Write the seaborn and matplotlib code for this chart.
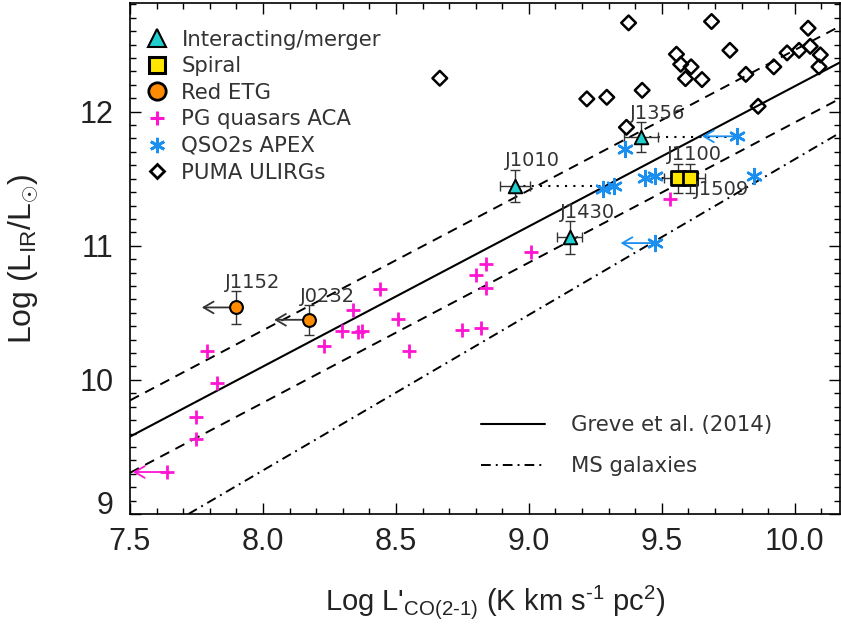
import numpy as np
import pandas as pd
import matplotlib
matplotlib.use("Agg")
import matplotlib.pyplot as plt
import seaborn as sns
from matplotlib.lines import Line2D
from matplotlib.ticker import MultipleLocator, FormatStrFormatter

# ---------------- data ----------------
merger_names = ["J1356", "J1010", "J1430"]
merger_x = [9.422, 8.947, 9.154]
merger_y = [11.811, 11.443, 11.062]
merger_xerr = [0.064, 0.056, 0.047]
merger_yerr = [0.11, 0.12, 0.12]

spiral_names = ["J1100", "J1509"]
spiral_x = [9.559, 9.606]
spiral_y = [11.502, 11.502]
spiral_xerr = [0.05, 0.056]
spiral_yerr = [0.11, 0.11]

etg_names = ["J1152", "J0232"]
etg_x = [7.900, 8.172]          # upper limits in x
etg_y = [10.540, 10.448]
etg_yerr = [0.12, 0.11]

pg_x = [7.788, 7.827, 7.750, 7.747, 8.229, 8.298, 8.340, 8.356, 8.371, 8.440,
        8.509, 8.550, 8.750, 8.819, 8.800, 8.837, 8.837, 9.008, 9.531]
pg_y = [10.216, 9.975, 9.722, 9.562, 10.254, 10.368, 10.522, 10.356, 10.368, 10.679,
        10.455, 10.216, 10.373, 10.386, 10.781, 10.866, 10.684, 10.955, 11.349]
pg_ul_x = [7.641]
pg_ul_y = [9.313]

qso2_x = [9.360, 9.277, 9.319, 9.437, 9.475, 9.845]
qso2_y = [11.722, 11.423, 11.448, 11.502, 11.522, 11.522]
qso2_ul_x = [9.781, 9.475]
qso2_ul_y = [11.816, 11.020]

puma_x = [8.665, 9.375, 9.687, 10.050, 9.555, 9.756, 9.971, 10.016, 10.058, 10.096,
          9.571, 9.610, 9.589, 9.651, 9.816, 9.921, 10.091, 9.218, 9.293, 9.426,
          9.862, 9.367]
puma_y = [12.249, 12.662, 12.672, 12.622, 12.428, 12.457, 12.438, 12.457, 12.487, 12.423,
          12.353, 12.334, 12.246, 12.239, 12.278, 12.334, 12.334, 12.095, 12.107, 12.159,
          12.040, 11.883]

# ACA <-> APEX links (dotted)
link_x1 = [8.947, 9.422, 9.437]
link_x2 = [9.319, 9.781, 9.559]
link_y = [11.443, 11.811, 11.502]

UL_LENGTH = 0.13  # length of upper-limit arrows (dex)

greve_slope, greve_intercept, greve_scatter = 1.045, 1.7395, 0.27
ms_slope, ms_intercept = 1.16, 0.045

legend_labels = ["Interacting/merger", "Spiral", "Red ETG",
                 "PG quasars ACA", "QSO2s APEX", "PUMA ULIRGs"]
line_labels = ["Greve et al. (2014)", "MS galaxies"]

# ---------------- style ----------------
sns.set_style("ticks")
MAIN = ["Liberation Sans", "DejaVu Sans"]
THIN = ["DejaVu Sans"]
plt.rcParams["font.family"] = MAIN
plt.rcParams["mathtext.fontset"] = "custom"
plt.rcParams["mathtext.rm"] = "Liberation Sans"
plt.rcParams["mathtext.it"] = "Liberation Sans:italic"

C_CYAN = "#22cfcf"
C_YELLOW = "#ffe600"
C_ORANGE = "#ff8c00"
C_MAGENTA = "#ff14d2"
C_BLUE = "#1a8ff0"
TXT = "#333333"

fig = plt.figure(figsize=(8.41, 6.35), dpi=100)
ax = fig.add_axes([130 / 841, 121 / 635, 710 / 841, 511 / 635])

# relations
ax.axline((0, greve_intercept), slope=greve_slope, color="k", lw=1.5, zorder=2)
for off in (greve_scatter, -greve_scatter):
    ax.axline((0, greve_intercept + off), slope=greve_slope, color="k", lw=1.4,
              dashes=(5.2, 3.6), zorder=2)
ax.axline((0, ms_intercept), slope=ms_slope, color="k", lw=1.4,
          dashes=(5, 2.6, 1, 2.6), zorder=2)

# dotted links
for x1, x2, y in zip(link_x1, link_x2, link_y):
    ax.plot([x1, x2], [y, y], color="k", lw=1.5, dashes=(1, 3), zorder=2.2)

# PUMA ULIRGs
sns.scatterplot(x=puma_x, y=puma_y, marker="D", s=56, facecolor="none",
                edgecolor="k", linewidth=1.8, ax=ax, zorder=3)

# PG quasars
sns.scatterplot(x=pg_x + pg_ul_x, y=pg_y + pg_ul_y, marker="+", s=95, color=C_MAGENTA,
                linewidth=2.0, ax=ax, zorder=3)

# QSO2s
sns.scatterplot(x=qso2_x + qso2_ul_x, y=qso2_y + qso2_ul_y, marker=(6, 2, 0), s=115,
                color=C_BLUE, linewidth=1.8, ax=ax, zorder=3)

def ul_arrow(x, y, color):
    ax.annotate("", xy=(x - UL_LENGTH, y), xytext=(x, y),
                arrowprops=dict(arrowstyle="->,head_length=0.6,head_width=0.35",
                                color=color, lw=1.3, shrinkA=0, shrinkB=0,
                                mutation_scale=12), zorder=2.6)

for x, y in zip(pg_ul_x, pg_ul_y):
    ul_arrow(x, y, C_MAGENTA)
for x, y in zip(qso2_ul_x, qso2_ul_y):
    ul_arrow(x, y, C_BLUE)
for x, y in zip(etg_x, etg_y):
    ul_arrow(x, y, "#333333")

# error bars
eb = dict(fmt="none", ecolor="#333333", elinewidth=1.0, capsize=3.6, capthick=1.0, zorder=2.5)
ax.errorbar(merger_x, merger_y, xerr=merger_xerr, yerr=merger_yerr, **eb)
ax.errorbar(spiral_x, spiral_y, xerr=spiral_xerr, yerr=spiral_yerr, **eb)
ax.errorbar(etg_x, etg_y, yerr=etg_yerr, **eb)

sns.scatterplot(x=merger_x, y=merger_y, marker="^", s=95, color=C_CYAN,
                edgecolor="k", linewidth=1.4, ax=ax, zorder=4)
sns.scatterplot(x=spiral_x, y=spiral_y, marker="s", s=105, color=C_YELLOW,
                edgecolor="k", linewidth=2.0, ax=ax, zorder=4)
sns.scatterplot(x=etg_x, y=etg_y, marker="o", s=85, color=C_ORANGE,
                edgecolor="k", linewidth=1.5, ax=ax, zorder=4)

# name labels
label_offsets = {"J1356": (12, 17), "J1010": (13, 18.5), "J1430": (13, 18),
                 "J1100": (12, 17), "J1509": (23, -8), "J1152": (12, 18),
                 "J0232": (13.5, 17)}
for names, xs, ys in ((merger_names, merger_x, merger_y),
                      (spiral_names, spiral_x, spiral_y),
                      (etg_names, etg_x, etg_y)):
    for n, x, y in zip(names, xs, ys):
        ax.annotate(n, (x, y), xytext=label_offsets[n], textcoords="offset points",
                    ha="center", va="center", fontsize=14, color=TXT,
                    family=THIN, zorder=5)

# axes
ax.set_xlim(7.5, 10.17)
ax.set_ylim(9.0, 12.81)
ax.xaxis.set_major_locator(MultipleLocator(0.5))
ax.xaxis.set_minor_locator(MultipleLocator(0.1))
ax.yaxis.set_major_locator(MultipleLocator(1))
ax.yaxis.set_minor_locator(MultipleLocator(0.1))
ax.xaxis.set_major_formatter(FormatStrFormatter("%.1f"))
ax.tick_params(which="both", direction="in", top=True, right=True, color="k",
               width=1.0, labelsize=22, labelcolor="#222222")
ax.tick_params(which="major", length=8)
ax.tick_params(which="minor", length=4)
ax.tick_params(axis="x", pad=9)
ax.tick_params(axis="y", pad=12)
for s in ax.spines.values():
    s.set_linewidth(1.2)
    s.set_color("k")

ax.set_xlabel(r"Log L'$_{\rm CO(2\text{-}1)}$ (K km s$^{\text{-1}}$ pc$^{\rm 2}$)",
              fontsize=21, color="#222222")
ax.set_ylabel(r"Log (L$_{\rm IR}$/L$_{{\odot}}$)", fontsize=23, color="#222222")
ax.xaxis.set_label_coords(0.514, -0.135)
ax.yaxis.set_label_coords(-0.127, 0.5)

# the lowest y label sits inside the frame
fig.canvas.draw()
for t in ax.get_yticklabels():
    if t.get_text() in ("9", "9.0"):
        t.set_verticalalignment("baseline")

# legends
handles = [
    Line2D([], [], ls="none", marker="^", ms=12.5, mfc=C_CYAN, mec="k", mew=1.5),
    Line2D([], [], ls="none", marker="s", ms=12, mfc=C_YELLOW, mec="k", mew=2.2),
    Line2D([], [], ls="none", marker="o", ms=12.5, mfc=C_ORANGE, mec="k", mew=2.0),
    Line2D([], [], ls="none", marker="+", ms=10, color=C_MAGENTA, mew=2.2),
    Line2D([], [], ls="none", marker=(6, 2, 0), ms=11, color=C_BLUE, mew=2.0),
    Line2D([], [], ls="none", marker="D", ms=7.5, mfc="none", mec="k", mew=2.0),
]
leg1 = ax.legend(handles, legend_labels, loc="upper left", bbox_to_anchor=(0.0, 0.977),
                 frameon=False, handlelength=1.1, handletextpad=0.62, labelspacing=0.31,
                 borderaxespad=0.3, prop=dict(family=THIN, size=15.3))
for t in leg1.get_texts():
    t.set_color(TXT)
ax.add_artist(leg1)

lhandles = [Line2D([], [], color="k", lw=1.5),
            Line2D([], [], color="k", lw=1.4, dashes=(5, 2.6, 1, 2.6))]
leg2 = ax.legend(lhandles, line_labels, loc="upper left", bbox_to_anchor=(0.483, 0.21),
                 frameon=False, handlelength=3.0, handletextpad=1.2, labelspacing=1.0,
                 borderaxespad=0, prop=dict(family=THIN, size=15.3))
for t in leg2.get_texts():
    t.set_color(TXT)

fig.savefig("out.png", dpi=100)
